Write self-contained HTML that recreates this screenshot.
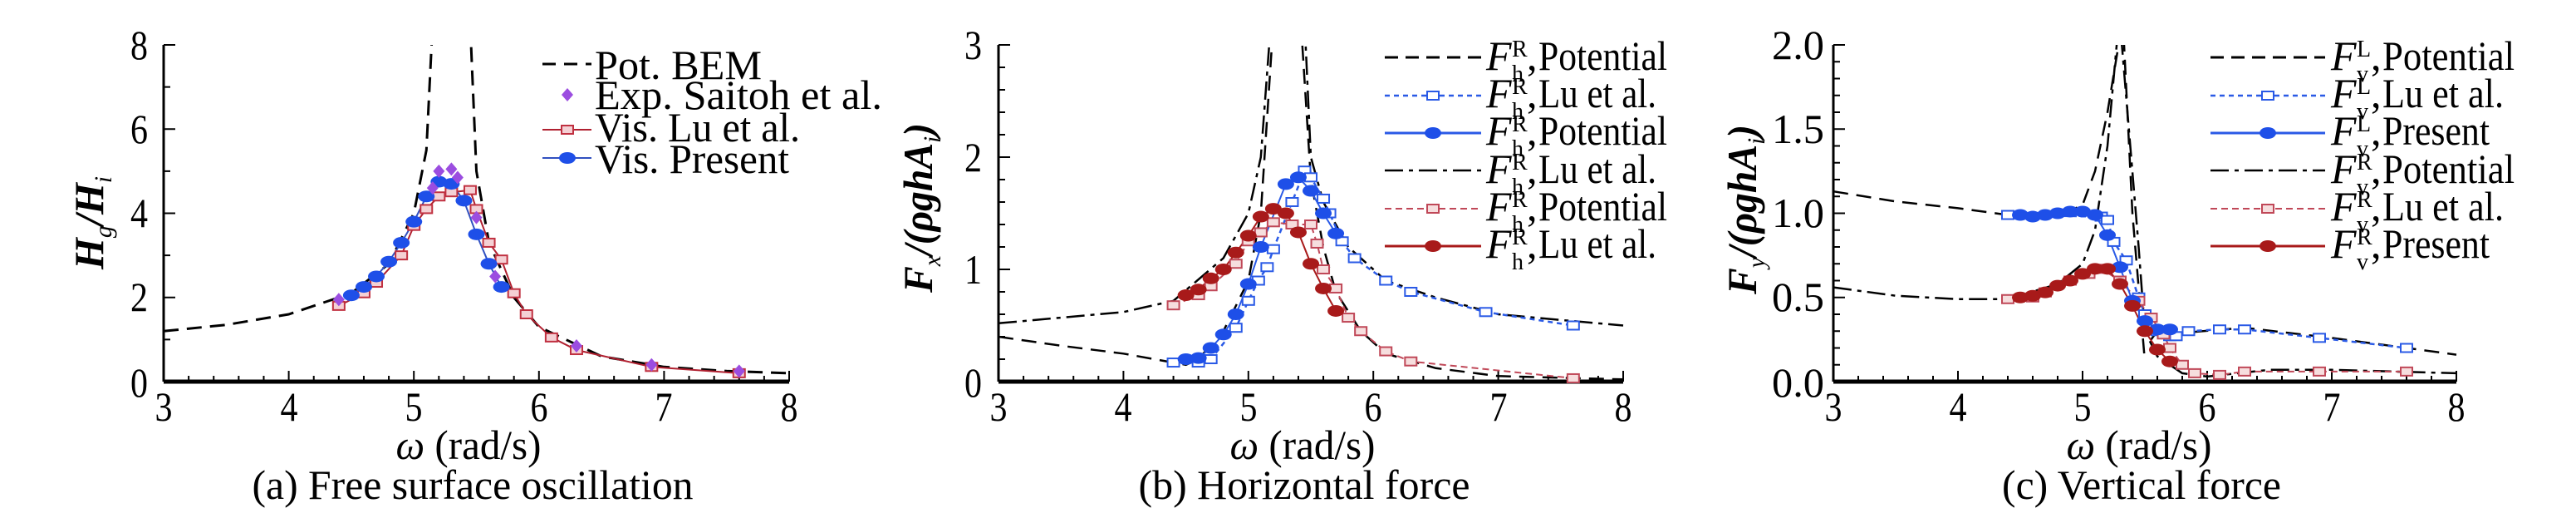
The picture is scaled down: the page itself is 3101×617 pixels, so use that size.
<!DOCTYPE html>
<html><head><meta charset="utf-8">
<style>
html,body{margin:0;padding:0;background:#fff;}
svg{display:block;}
svg text{font-family:"Liberation Serif","DejaVu Serif",serif;fill:#000;}
</style></head>
<body>
<svg id="s" width="3101" height="617" viewBox="0 0 3101 617" xmlns="http://www.w3.org/2000/svg" font-family="'Liberation Serif','DejaVu Serif',serif">
<defs>
<clipPath id="ca"><rect x="192" y="54" width="765" height="407"/></clipPath>
<clipPath id="cb"><rect x="1197" y="54" width="764" height="407"/></clipPath>
<clipPath id="cc"><rect x="2202" y="54" width="762" height="407"/></clipPath>
</defs>
<g id="plots"></g>
<!-- Panel a text -->
<g font-size="50">
<text x="178" y="71" text-anchor="end" textLength="21" lengthAdjust="spacingAndGlyphs">8</text>
<text x="178" y="172" text-anchor="end" textLength="21" lengthAdjust="spacingAndGlyphs">6</text>
<text x="178" y="273" text-anchor="end" textLength="21" lengthAdjust="spacingAndGlyphs">4</text>
<text x="178" y="374" text-anchor="end" textLength="21" lengthAdjust="spacingAndGlyphs">2</text>
<text x="178" y="477" text-anchor="end" textLength="21" lengthAdjust="spacingAndGlyphs">0</text>
<text x="197" y="506" text-anchor="middle" textLength="21" lengthAdjust="spacingAndGlyphs">3</text>
<text x="348" y="506" text-anchor="middle" textLength="21" lengthAdjust="spacingAndGlyphs">4</text>
<text x="498" y="506" text-anchor="middle" textLength="21" lengthAdjust="spacingAndGlyphs">5</text>
<text x="649" y="506" text-anchor="middle" textLength="21" lengthAdjust="spacingAndGlyphs">6</text>
<text x="799" y="506" text-anchor="middle" textLength="21" lengthAdjust="spacingAndGlyphs">7</text>
<text x="950" y="506" text-anchor="middle" textLength="21" lengthAdjust="spacingAndGlyphs">8</text>
<text x="564" y="552" text-anchor="middle" textLength="175" lengthAdjust="spacingAndGlyphs"><tspan font-style="italic">ω</tspan> (rad/s)</text>
<text x="569" y="600" text-anchor="middle" textLength="531" lengthAdjust="spacingAndGlyphs">(a) Free surface oscillation</text>
<text transform="translate(124,268) rotate(-90)" text-anchor="middle" font-style="italic" font-weight="bold" textLength="112" lengthAdjust="spacingAndGlyphs">H<tspan font-size="30" dy="10" font-weight="normal">g</tspan><tspan dy="-10">/H</tspan><tspan font-size="30" dy="10" font-weight="normal">i</tspan></text>
<text x="716" y="95" textLength="201" lengthAdjust="spacingAndGlyphs">Pot. BEM</text>
<text x="716" y="131" textLength="346" lengthAdjust="spacingAndGlyphs">Exp. Saitoh et al.</text>
<text x="716" y="170" textLength="247" lengthAdjust="spacingAndGlyphs">Vis. Lu et al.</text>
<text x="716" y="208" textLength="234" lengthAdjust="spacingAndGlyphs">Vis. Present</text>
</g>
<!-- Panel b text -->
<g font-size="50">
<text x="1182" y="71" text-anchor="end" textLength="21" lengthAdjust="spacingAndGlyphs">3</text>
<text x="1182" y="206" text-anchor="end" textLength="21" lengthAdjust="spacingAndGlyphs">2</text>
<text x="1182" y="341" text-anchor="end" textLength="21" lengthAdjust="spacingAndGlyphs">1</text>
<text x="1182" y="477" text-anchor="end" textLength="21" lengthAdjust="spacingAndGlyphs">0</text>
<text x="1202" y="506" text-anchor="middle" textLength="21" lengthAdjust="spacingAndGlyphs">3</text>
<text x="1352" y="506" text-anchor="middle" textLength="21" lengthAdjust="spacingAndGlyphs">4</text>
<text x="1503" y="506" text-anchor="middle" textLength="21" lengthAdjust="spacingAndGlyphs">5</text>
<text x="1653" y="506" text-anchor="middle" textLength="21" lengthAdjust="spacingAndGlyphs">6</text>
<text x="1804" y="506" text-anchor="middle" textLength="21" lengthAdjust="spacingAndGlyphs">7</text>
<text x="1954" y="506" text-anchor="middle" textLength="21" lengthAdjust="spacingAndGlyphs">8</text>
<text x="1568" y="552" text-anchor="middle" textLength="175" lengthAdjust="spacingAndGlyphs"><tspan font-style="italic">ω</tspan> (rad/s)</text>
<text x="1570" y="600" text-anchor="middle" textLength="399" lengthAdjust="spacingAndGlyphs">(b) Horizontal force</text>
<text transform="translate(1122,250) rotate(-90)" text-anchor="middle" font-style="italic" font-weight="bold" textLength="204" lengthAdjust="spacingAndGlyphs">F<tspan font-size="30" dy="10" font-weight="normal">x</tspan><tspan dy="-10">/(ρghA</tspan><tspan font-size="30" dy="10" font-weight="normal">i</tspan><tspan dy="-10">)</tspan></text>
</g>
<!-- Panel c text -->
<g font-size="50">
<text x="2196" y="71" text-anchor="end" textLength="63" lengthAdjust="spacingAndGlyphs">2.0</text>
<text x="2196" y="172" text-anchor="end" textLength="63" lengthAdjust="spacingAndGlyphs">1.5</text>
<text x="2196" y="273" text-anchor="end" textLength="63" lengthAdjust="spacingAndGlyphs">1.0</text>
<text x="2196" y="374" text-anchor="end" textLength="63" lengthAdjust="spacingAndGlyphs">0.5</text>
<text x="2196" y="477" text-anchor="end" textLength="63" lengthAdjust="spacingAndGlyphs">0.0</text>
<text x="2207" y="506" text-anchor="middle" textLength="21" lengthAdjust="spacingAndGlyphs">3</text>
<text x="2357" y="506" text-anchor="middle" textLength="21" lengthAdjust="spacingAndGlyphs">4</text>
<text x="2507" y="506" text-anchor="middle" textLength="21" lengthAdjust="spacingAndGlyphs">5</text>
<text x="2657" y="506" text-anchor="middle" textLength="21" lengthAdjust="spacingAndGlyphs">6</text>
<text x="2807" y="506" text-anchor="middle" textLength="21" lengthAdjust="spacingAndGlyphs">7</text>
<text x="2957" y="506" text-anchor="middle" textLength="21" lengthAdjust="spacingAndGlyphs">8</text>
<text x="2575" y="552" text-anchor="middle" textLength="175" lengthAdjust="spacingAndGlyphs"><tspan font-style="italic">ω</tspan> (rad/s)</text>
<text x="2578" y="600" text-anchor="middle" textLength="336" lengthAdjust="spacingAndGlyphs">(c) Vertical force</text>
<text transform="translate(2114,252) rotate(-90)" text-anchor="middle" font-style="italic" font-weight="bold" textLength="204" lengthAdjust="spacingAndGlyphs">F<tspan font-size="30" dy="10" font-weight="normal">y</tspan><tspan dy="-10">/(ρghA</tspan><tspan font-size="30" dy="10" font-weight="normal">i</tspan><tspan dy="-10">)</tspan></text>
</g>
<!-- Legend b -->
<g font-size="50">
<text x="1789" y="84"><tspan font-style="italic">F</tspan><tspan font-size="28" x="1820" dy="-16">R</tspan><tspan font-size="28" x="1820" dy="30">h</tspan><tspan x="1838" dy="-14">,</tspan><tspan x="1852" textLength="155" lengthAdjust="spacingAndGlyphs">Potential</tspan></text>
<text x="1789" y="129"><tspan font-style="italic">F</tspan><tspan font-size="28" x="1820" dy="-16">R</tspan><tspan font-size="28" x="1820" dy="30">h</tspan><tspan x="1838" dy="-14">,</tspan><tspan x="1852" textLength="142" lengthAdjust="spacingAndGlyphs">Lu et al.</tspan></text>
<text x="1789" y="174"><tspan font-style="italic">F</tspan><tspan font-size="28" x="1820" dy="-16">R</tspan><tspan font-size="28" x="1820" dy="30">h</tspan><tspan x="1838" dy="-14">,</tspan><tspan x="1852" textLength="155" lengthAdjust="spacingAndGlyphs">Potential</tspan></text>
<text x="1789" y="220"><tspan font-style="italic">F</tspan><tspan font-size="28" x="1820" dy="-16">R</tspan><tspan font-size="28" x="1820" dy="30">h</tspan><tspan x="1838" dy="-14">,</tspan><tspan x="1852" textLength="142" lengthAdjust="spacingAndGlyphs">Lu et al.</tspan></text>
<text x="1789" y="265"><tspan font-style="italic">F</tspan><tspan font-size="28" x="1820" dy="-16">R</tspan><tspan font-size="28" x="1820" dy="30">h</tspan><tspan x="1838" dy="-14">,</tspan><tspan x="1852" textLength="155" lengthAdjust="spacingAndGlyphs">Potential</tspan></text>
<text x="1789" y="310"><tspan font-style="italic">F</tspan><tspan font-size="28" x="1820" dy="-16">R</tspan><tspan font-size="28" x="1820" dy="30">h</tspan><tspan x="1838" dy="-14">,</tspan><tspan x="1852" textLength="142" lengthAdjust="spacingAndGlyphs">Lu et al.</tspan></text>
</g>
<!-- Legend c -->
<g font-size="50">
<text x="2806" y="84"><tspan font-style="italic">F</tspan><tspan font-size="28" x="2837" dy="-16">L</tspan><tspan font-size="28" x="2837" dy="30">v</tspan><tspan x="2854" dy="-14">,</tspan><tspan x="2868" textLength="159" lengthAdjust="spacingAndGlyphs">Potential</tspan></text>
<text x="2806" y="129"><tspan font-style="italic">F</tspan><tspan font-size="28" x="2837" dy="-16">L</tspan><tspan font-size="28" x="2837" dy="30">v</tspan><tspan x="2854" dy="-14">,</tspan><tspan x="2868" textLength="146" lengthAdjust="spacingAndGlyphs">Lu et al.</tspan></text>
<text x="2806" y="174"><tspan font-style="italic">F</tspan><tspan font-size="28" x="2837" dy="-16">L</tspan><tspan font-size="28" x="2837" dy="30">v</tspan><tspan x="2854" dy="-14">,</tspan><tspan x="2868" textLength="129" lengthAdjust="spacingAndGlyphs">Present</tspan></text>
<text x="2806" y="220"><tspan font-style="italic">F</tspan><tspan font-size="28" x="2837" dy="-16">R</tspan><tspan font-size="28" x="2837" dy="30">v</tspan><tspan x="2854" dy="-14">,</tspan><tspan x="2868" textLength="159" lengthAdjust="spacingAndGlyphs">Potential</tspan></text>
<text x="2806" y="265"><tspan font-style="italic">F</tspan><tspan font-size="28" x="2837" dy="-16">R</tspan><tspan font-size="28" x="2837" dy="30">v</tspan><tspan x="2854" dy="-14">,</tspan><tspan x="2868" textLength="146" lengthAdjust="spacingAndGlyphs">Lu et al.</tspan></text>
<text x="2806" y="310"><tspan font-style="italic">F</tspan><tspan font-size="28" x="2837" dy="-16">R</tspan><tspan font-size="28" x="2837" dy="30">v</tspan><tspan x="2854" dy="-14">,</tspan><tspan x="2868" textLength="129" lengthAdjust="spacingAndGlyphs">Present</tspan></text>
</g>
</svg>
<script>
(function(){
var NS="http://www.w3.org/2000/svg",G=document.getElementById("plots");
function el(t,a,p){var e=document.createElementNS(NS,t);for(var k in a)e.setAttribute(k,a[k]);(p||G).appendChild(e);return e;}
function panel(x0,x1,yb,yt,ymax,ymaj,ymin,clip){
  var X=function(v){return x0+(v-3)*(x1-x0)/5;},Y=function(v){return yb-v*(yb-yt)/ymax;};
  el("line",{x1:x0,y1:yt,x2:x0,y2:yb,stroke:"#000","stroke-width":3});
  el("line",{x1:x0,y1:yb,x2:x1,y2:yb,stroke:"#000","stroke-width":5});
  for(var i=0;i<=25;i++){var v=3+i*0.2;var L=(i%5==0)?13:7;el("line",{x1:X(v),y1:yb,x2:X(v),y2:yb-L,stroke:"#000","stroke-width":2});}
  for(var v=0;v<=ymax+1e-6;v+=ymin){var M=Math.abs(v/ymaj-Math.round(v/ymaj))<1e-6;el("line",{x1:x0,y1:Y(v),x2:x0+(M?14:8),y2:Y(v),stroke:"#000","stroke-width":2});}
  var g=el("g",{"clip-path":"url(#"+clip+")"});
  return {X:X,Y:Y,g:g};
}
function line(P,d,st){var s="";d.forEach(function(p,i){s+=(i?"L":"M")+P.X(p[0]).toFixed(1)+","+P.Y(p[1]).toFixed(1);});
  var a={d:s,fill:"none",stroke:st.c,"stroke-width":st.w||2.5};if(st.da)a["stroke-dasharray"]=st.da;el("path",a,P.g);}
function mk(P,d,type,c,f){d.forEach(function(p){mark(P.g,P.X(p[0]),P.Y(p[1]),type,c,f);});}
function mark(g,x,y,type,c,f){
  if(type=="c")el("ellipse",{cx:x,cy:y,rx:10,ry:7,fill:c},g);
  else if(type=="s")el("rect",{x:x-7,y:y-5,width:14,height:10,fill:f||"#fff",stroke:c,"stroke-width":2},g);
  else if(type=="d")el("path",{d:"M"+x+","+(y-8)+"L"+(x+7)+","+y+"L"+x+","+(y+8)+"L"+(x-7)+","+y+"Z",fill:c},g);
}
var DASH="18,10",DD="22,7,5,7",DOT="6,5";
var BL="#2a5ae6",BLC="#1e4fe8",RD="#a81a1a",RS="#c04858";
var A=panel(197,950,459,54,8,2,1,"ca");
line(A,[[3,1.2],[3.5,1.35],[4,1.6],[4.5,2.1],[4.8,2.8],[5,4],[5.1,5.5],[5.15,8.5]],{c:"#000",da:DASH,w:3});
line(A,[[5.45,8.5],[5.5,5],[5.6,3.3],[5.8,2],[6,1.3],[6.5,0.6],[7,0.35],[7.5,0.25],[8,0.2]],{c:"#000",da:DASH,w:3});
var aL=[[4.4,1.8],[4.6,2.1],[4.7,2.35],[4.9,3.0],[5.0,3.7],[5.1,4.1],[5.2,4.4],[5.3,4.5],[5.45,4.55],[5.5,4.1],[5.6,3.3],[5.7,2.9],[5.8,2.1],[5.9,1.6],[6.1,1.05],[6.3,0.75],[6.9,0.35],[7.6,0.2]];
var aP=[[4.5,2.05],[4.6,2.25],[4.7,2.5],[4.8,2.85],[4.9,3.3],[5.0,3.8],[5.1,4.4],[5.2,4.75],[5.3,4.7],[5.4,4.3],[5.5,3.5],[5.6,2.8],[5.7,2.25]];
var aE=[[4.4,1.95],[5.15,4.6],[5.2,5.0],[5.3,5.05],[5.35,4.85],[5.5,3.9],[5.65,2.5],[6.3,0.85],[6.9,0.4],[7.6,0.25]];
line(A,aL,{c:"#b02030",w:2});line(A,aP,{c:"#3050c0",w:2});
mk(A,aL,"s","#c03040","#f4d0d4");mk(A,aP,"c",BLC);mk(A,aE,"d","#9b4de0");
el("line",{x1:653,y1:77,x2:712,y2:77,stroke:"#000","stroke-width":3,"stroke-dasharray":"16,10"});
mark(G,683,114,"d","#9b4de0");
el("line",{x1:653,y1:156,x2:712,y2:156,stroke:"#b02030","stroke-width":2});mark(G,683,156,"s","#c03040","#f4d0d4");
el("line",{x1:653,y1:190,x2:712,y2:190,stroke:"#3050c0","stroke-width":2});mark(G,683,190,"c",BLC);
var B=panel(1202,1954,459,54,3,1,0.2,"cb");
line(B,[[3,0.4],[3.5,0.32],[4,0.25],[4.5,0.15],[4.6,0.2],[4.8,0.45],[5,0.9],[5.1,1.5],[5.2,3.2]],{c:"#000",da:DASH,w:2.5});
line(B,[[5.42,3.2],[5.5,1.8],[5.6,1.2],[5.7,0.8],[5.9,0.45],[6.1,0.25],[6.5,0.12],[7,0.05],[8,0.02]],{c:"#000",da:DASH,w:2.5});
line(B,[[3,0.52],[4,0.62],[4.4,0.72],[4.8,1.1],[5.0,1.5],[5.1,2.0],[5.18,3.2]],{c:"#000",da:DD,w:2.5});
line(B,[[5.45,3.2],[5.5,2.0],[5.6,1.6],[5.8,1.2],[6.1,0.9],[6.5,0.75],[7,0.6],[7.5,0.55],[8,0.5]],{c:"#000",da:DD,w:2.5});
var bLs=[[4.4,0.17],[4.6,0.17],[4.7,0.2],[4.9,0.48],[5.0,0.72],[5.08,0.9],[5.15,1.02],[5.2,1.18],[5.35,1.6],[5.45,1.88],[5.5,1.82],[5.6,1.63],[5.65,1.5],[5.75,1.25],[5.85,1.1],[6.1,0.9],[6.3,0.8],[6.9,0.62],[7.6,0.5]];
var bLc=[[4.5,0.2],[4.6,0.21],[4.7,0.3],[4.8,0.42],[4.9,0.6],[5.0,0.87],[5.1,1.2],[5.3,1.76],[5.4,1.82],[5.5,1.7],[5.6,1.5],[5.7,1.32]];
var bRs=[[4.4,0.68],[4.6,0.77],[4.7,0.85],[4.9,1.05],[5.0,1.25],[5.1,1.33],[5.2,1.42],[5.35,1.4],[5.5,1.4],[5.55,1.23],[5.6,1.0],[5.7,0.83],[5.8,0.57],[5.9,0.45],[6.1,0.27],[6.3,0.18],[7.6,0.03]];
var bRc=[[4.5,0.77],[4.6,0.82],[4.7,0.92],[4.8,1.0],[4.9,1.15],[5.0,1.3],[5.1,1.47],[5.2,1.54],[5.3,1.5],[5.4,1.33],[5.5,1.05],[5.6,0.83],[5.7,0.63]];
line(B,bLs,{c:BL,da:DOT,w:2.5});line(B,bRs,{c:RS,da:"8,5",w:2});
line(B,bLc,{c:BL,w:2});line(B,bRc,{c:RD,w:2});
mk(B,bLs,"s",BL);mk(B,bRs,"s",RS,"#f6dede");mk(B,bLc,"c",BLC);mk(B,bRc,"c",RD);
var C=panel(2207,2957,459,54,2,0.5,0.1,"cc");
line(C,[[3,1.13],[3.5,1.07],[4,1.03],[4.4,0.99],[4.8,0.98],[5.0,1.05],[5.1,1.25],[5.2,1.6],[5.3,2.05]],{c:"#000",da:DASH,w:2.5});
line(C,[[5.33,2.05],[5.4,1.0],[5.5,0.12]],{c:"#000",da:DASH,w:2.5});
line(C,[[5.55,0.25],[5.6,0.3],[5.8,0.29],[6.3,0.32],[7,0.26],[7.6,0.2],[8,0.16]],{c:"#000",da:DASH,w:2.5});
line(C,[[3,0.56],[3.5,0.51],[4,0.49],[4.4,0.49],[4.8,0.58],[5.0,0.7],[5.1,0.9],[5.2,1.4],[5.28,2.05]],{c:"#000",da:DD,w:2.5});
line(C,[[5.31,2.05],[5.45,0.8],[5.5,0.3],[5.6,0.15],[5.8,0.05],[6,0.03],[6.5,0.07],[7,0.07],[8,0.05]],{c:"#000",da:DD,w:2.5});
var cLs=[[4.4,0.99],[5.15,0.98],[5.2,0.96],[5.25,0.83],[5.35,0.72],[5.45,0.5],[5.5,0.4],[5.6,0.3],[5.7,0.27],[5.75,0.27],[5.85,0.3],[6.1,0.31],[6.3,0.31],[6.9,0.26],[7.6,0.2]];
var cLc=[[4.5,0.99],[4.6,0.98],[4.7,0.99],[4.8,1.0],[4.9,1.01],[5.0,1.01],[5.1,0.99],[5.2,0.87],[5.3,0.68],[5.4,0.48],[5.5,0.36],[5.6,0.31],[5.7,0.31]];
var cRs=[[4.4,0.49],[4.6,0.5],[4.7,0.53],[4.9,0.6],[5.05,0.64],[5.15,0.67],[5.3,0.6],[5.45,0.48],[5.55,0.38],[5.65,0.28],[5.7,0.2],[5.8,0.1],[5.9,0.05],[6.1,0.04],[6.3,0.06],[6.9,0.06],[7.6,0.06]];
var cRc=[[4.5,0.5],[4.6,0.51],[4.7,0.53],[4.8,0.57],[4.9,0.6],[5.0,0.64],[5.1,0.67],[5.2,0.67],[5.3,0.58],[5.4,0.45],[5.5,0.3],[5.6,0.19],[5.7,0.12]];
line(C,cLs,{c:BL,da:DOT,w:2.5});line(C,cRs,{c:RS,da:"8,5",w:2});
line(C,cLc,{c:BL,w:2});line(C,cRc,{c:RD,w:2});
mk(C,cLs,"s",BL);mk(C,cRs,"s",RS,"#f6dede");mk(C,cLc,"c",BLC);mk(C,cRc,"c",RD);
function leg(x1,x2,ys){
  var st=[["#000","16,9",3,null],[BL,DOT,2.5,"s"],[BL,null,3,"c"],["#000",DD,2.5,null],[RS,"8,5",2,"s"],[RD,null,3,"c"]];
  st.forEach(function(s,i){var a={x1:x1,y1:ys[i],x2:x2,y2:ys[i],stroke:s[0],"stroke-width":s[2]};if(s[1])a["stroke-dasharray"]=s[1];el("line",a);
    if(s[3])mark(G,(x1+x2)/2,ys[i],s[3],s[0]==RS?RS:(s[3]=="c"?(s[0]==RD?RD:BLC):BL),s[0]==RS?"#f6dede":null);});
}
var ys=[69,115,160,205,251,296];
leg(1667,1783,ys);leg(2661,2799,ys);
})();
</script>
</body></html>
